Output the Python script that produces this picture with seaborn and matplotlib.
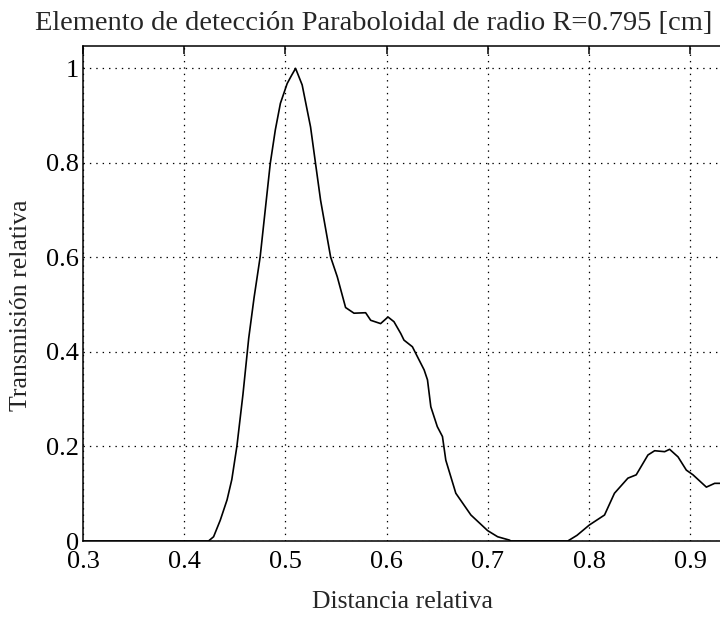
import matplotlib
matplotlib.use("Agg")
import matplotlib.pyplot as plt
import seaborn as sns
import pandas as pd

# Data
distancia = [0.30, 0.42, 0.424, 0.429, 0.4356, 0.4423, 0.447, 0.452, 0.458, 0.4637,
             0.469, 0.475, 0.480, 0.485, 0.490, 0.495, 0.5017, 0.506, 0.510, 0.5165,
             0.5248, 0.5297, 0.5347, 0.5446, 0.5512, 0.5594, 0.5677, 0.5792, 0.5842, 0.594,
             0.6013, 0.6072, 0.6139, 0.6171, 0.6254, 0.6287, 0.637, 0.6403, 0.6436, 0.650,
             0.6551, 0.6584, 0.6683, 0.6832, 0.6997, 0.7096, 0.7211, 0.7228, 0.7789, 0.788,
             0.8003, 0.8152, 0.825, 0.8383, 0.8465, 0.8581, 0.8647, 0.8746, 0.8795, 0.8878,
             0.896, 0.9026, 0.9158, 0.924, 0.931]
transmision = [0.0, 0.0, 0.0, 0.009, 0.044, 0.087, 0.13, 0.20, 0.31, 0.429,
               0.515, 0.601, 0.70, 0.799, 0.87, 0.926, 0.968, 0.985, 1.0, 0.965,
               0.876, 0.799, 0.721, 0.601, 0.559, 0.494, 0.482, 0.483, 0.467, 0.460,
               0.474, 0.464, 0.439, 0.425, 0.411, 0.397, 0.362, 0.341, 0.284, 0.242,
               0.221, 0.171, 0.101, 0.055, 0.022, 0.009, 0.002, 0.0, 0.0, 0.012,
               0.034, 0.055, 0.101, 0.133, 0.140, 0.182, 0.191, 0.189, 0.194, 0.178,
               0.150, 0.140, 0.114, 0.122, 0.122]

x_ticks = [0.3, 0.4, 0.5, 0.6, 0.7, 0.8, 0.9]
x_ticklabels = ["0.3", "0.4", "0.5", "0.6", "0.7", "0.8", "0.9"]
y_ticks = [0, 0.2, 0.4, 0.6, 0.8, 1.0]
y_ticklabels = ["0", "0.2", "0.4", "0.6", "0.8", "1"]

title = "Elemento de detección Paraboloidal de radio R=0.795 [cm]"
xlabel = "Distancia relativa"
ylabel = "Transmisión relativa"

sns.set_style("white")
plt.rcParams["font.family"] = ["Liberation Serif", "DejaVu Serif"]
plt.rcParams["lines.scale_dashes"] = False

df = pd.DataFrame({"x": distancia, "y": transmision})

fig = plt.figure(figsize=(7.2, 6.19), dpi=100)
ax = fig.add_axes([83 / 720, 78 / 619, 1 - 83 / 720 + 0.002, (541 - 45.7) / 619])

sns.lineplot(data=df, x="x", y="y", ax=ax, color="black", linewidth=1.2,
             sort=False, estimator=None)

ax.set_xlim(0.3, 0.3 + 637 / 1010)
ax.set_ylim(0, 1.048)
ax.set_xticks(x_ticks)
ax.set_xticklabels(x_ticklabels)
ax.set_yticks(y_ticks)
ax.set_yticklabels(y_ticklabels)

ax.grid(True, color="black", linestyle=(0, (1.0, 3.6)), linewidth=0.9)
ax.set_axisbelow(True)

for side in ["left", "bottom", "top"]:
    ax.spines[side].set_visible(True)
    ax.spines[side].set_color("black")
    ax.spines[side].set_linewidth(1.1)
ax.spines["right"].set_visible(False)

ax.tick_params(axis="both", direction="in", length=6, width=1.1, colors="black",
               labelsize=19, top=True, right=False)
ax.tick_params(axis="x", pad=7)
ax.tick_params(axis="y", pad=3)

ax.set_title(title, fontsize=20.5, pad=11, x=0.455)
ax.set_xlabel(xlabel, fontsize=18.5, labelpad=13)
ax.set_ylabel(ylabel, fontsize=18.5)
ax.yaxis.set_label_coords(-0.08, 0.475)

fig.savefig("out.png", dpi=100)
